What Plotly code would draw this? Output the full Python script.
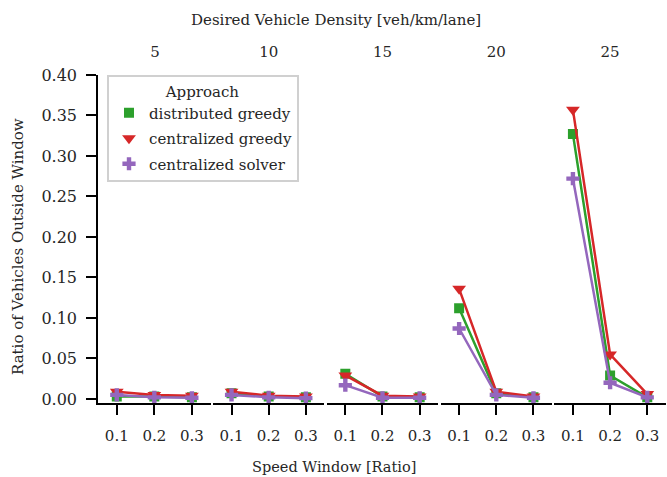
import plotly.graph_objects as go

densities = [5, 10, 15, 20, 25]
windows = ["0.1", "0.2", "0.3"]

# values per density group, each list over windows 0.1, 0.2, 0.3
distributed_greedy = [
    [0.003, 0.003, 0.002],
    [0.007, 0.003, 0.002],
    [0.031, 0.003, 0.002],
    [0.112, 0.007, 0.002],
    [0.327, 0.029, 0.002],
]
centralized_greedy = [
    [0.009, 0.005, 0.004],
    [0.009, 0.004, 0.003],
    [0.029, 0.004, 0.003],
    [0.136, 0.009, 0.003],
    [0.357, 0.055, 0.006],
]
centralized_solver = [
    [0.005, 0.002, 0.0015],
    [0.005, 0.002, 0.001],
    [0.017, 0.0015, 0.0015],
    [0.087, 0.005, 0.0015],
    [0.272, 0.020, 0.002],
]

series_names = ["distributed greedy", "centralized greedy", "centralized solver"]
series_values = [distributed_greedy, centralized_greedy, centralized_solver]
colors = ["#2ca02c", "#d62728", "#9467bd"]
symbols = ["square", "triangle-down", "cross"]
sizes = [10, 12, 11]

FONT = "DejaVu Serif"
TXT = "#262626"

W, H = 667, 477
ML, MR, MT, MB = 98, 0, 75, 74
PW, PH = W - ML - MR, H - MT - MB


def px_x(x):
    return (x - ML) / PW


def px_y(y):
    return (H - MB - y) / PH


fig = go.Figure()
n = len(densities)
for i, d in enumerate(densities):
    xa = "x" if i == 0 else f"x{i+1}"
    for name, vals, c, s, sz in zip(series_names, series_values, colors, symbols, sizes):
        fig.add_trace(go.Scatter(
            x=windows, y=vals[i], xaxis=xa, yaxis="y",
            mode="lines+markers",
            line=dict(color=c, width=2.5),
            marker=dict(symbol=s, size=sz, color=c),
            showlegend=False, name=name,
        ))

# legend proxies (markers only)
for k, (name, c, s, sz) in enumerate(zip(series_names, colors, symbols, sizes)):
    fig.add_trace(go.Scatter(
        x=[None], y=[None], xaxis="x", yaxis="y", mode="markers",
        marker=dict(symbol=s, size=sz, color=c), name=name, showlegend=True,
        legendgroup=f"g{k}",
    ))

# top axis carrying the density tick labels
fig.add_trace(go.Scatter(x=densities, y=[None] * n, xaxis=f"x{n+1}", yaxis="y",
                         mode="markers", showlegend=False, hoverinfo="skip"))

layout = dict(
    width=W, height=H,
    margin=dict(l=ML, r=MR, t=MT, b=MB),
    paper_bgcolor="white", plot_bgcolor="rgba(0,0,0,0)",
    font=dict(family=FONT, size=15, color=TXT),
    showlegend=True,
    legend=dict(
        x=px_x(107), y=px_y(75), xanchor="left", yanchor="top",
        bordercolor="#d0d0d0", borderwidth=2, bgcolor="white",
        font=dict(family=FONT, size=15, color=TXT),
        title=dict(text="Approach", side="top center", font=dict(family=FONT, size=15, color=TXT)),
        itemwidth=30, traceorder="grouped", tracegroupgap=3,
    ),
    yaxis=dict(
        anchor="x", range=[-0.005, 0.40], automargin=False,
        tickvals=[0, 0.05, 0.1, 0.15, 0.2, 0.25, 0.3, 0.35, 0.4],
        tickformat=".2f",
        showline=True, linecolor="black", linewidth=1.5,
        ticks="outside", ticklen=10, tickwidth=1.5, tickcolor="black",
        ticklabelstandoff=6,
        showgrid=False, zeroline=False,
        tickfont=dict(family=FONT, size=16, color=TXT),
    ),
)
w = 1.0 / n
for i in range(n):
    key = "xaxis" if i == 0 else f"xaxis{i+1}"
    layout[key] = dict(
        domain=[i * w + (0.002 if i > 0 else 0), (i + 1) * w - 0.002],
        anchor="y", type="category", range=[-0.5, 2.5], automargin=False,
        showline=True, linecolor="black", linewidth=1.5,
        ticks="outside", ticklen=10, tickwidth=1.5, tickcolor="black",
        ticklabelstandoff=8,
        showgrid=False, zeroline=False,
        tickfont=dict(family=FONT, size=15, color=TXT),
    )
layout[f"xaxis{n+1}"] = dict(
    domain=[0, 1], anchor="y", side="top", automargin=False,
    range=[2.5, 27.5], tickvals=densities,
    ticks="", showline=False, showgrid=False, zeroline=False,
    ticklabelstandoff=14,
    tickfont=dict(family=FONT, size=15, color=TXT),
)
fig.update_layout(**layout)

fig.add_annotation(text="Desired Vehicle Density [veh/km/lane]", xref="paper", yref="paper",
                   x=px_x(189), y=px_y(20), xanchor="left", yanchor="middle",
                   showarrow=False, font=dict(family=FONT, size=15, color=TXT))
fig.add_annotation(text="Speed Window [Ratio]", xref="paper", yref="paper",
                   x=px_x(250), y=px_y(467), xanchor="left", yanchor="middle",
                   showarrow=False, font=dict(family=FONT, size=14.5, color=TXT))
fig.add_annotation(text="Ratio of Vehicles Outside Window", xref="paper", yref="paper",
                   x=px_x(18), y=px_y(247), xanchor="center", yanchor="middle", textangle=-90,
                   showarrow=False, font=dict(family=FONT, size=15, color=TXT))

fig.write_html("out.html", config={"displayModeBar": False},
               post_script="document.body.style.margin='0';document.body.style.padding='0';")
